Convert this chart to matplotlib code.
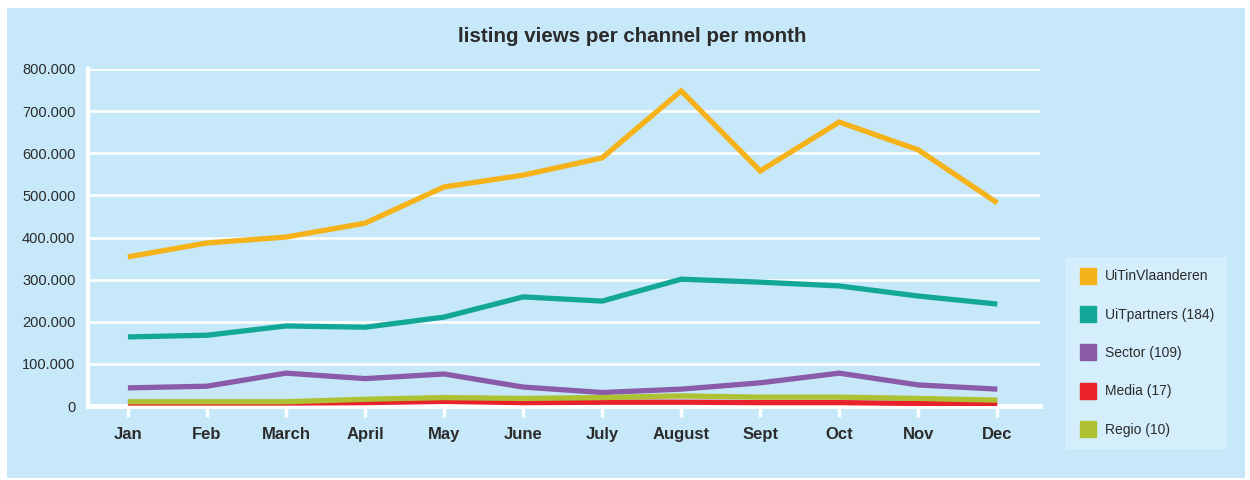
import matplotlib.pyplot as plt
from matplotlib.patches import Rectangle
from matplotlib.ticker import FuncFormatter

months = ["Jan", "Feb", "March", "April", "May", "June", "July", "August",
          "Sept", "Oct", "Nov", "Dec"]
uitinvlaanderen = [354000, 387000, 401000, 434000, 520000, 548000, 589000,
                   748000, 558000, 674000, 608000, 482000]
uitpartners = [164000, 168000, 190000, 187000, 211000, 259000, 249000,
               301000, 294000, 285000, 261000, 242000]
sector = [43000, 47000, 78000, 65000, 76000, 45000, 32000, 40000, 55000,
          78000, 50000, 40000]
media = [7000, 7000, 7000, 8000, 11000, 8000, 9000, 9000, 8000, 8000,
         6000, 4000]
regio = [10000, 10000, 10000, 16000, 20000, 18000, 20000, 24000, 21000,
         21000, 18000, 14000]

names = ["UiTinVlaanderen", "UiTpartners (184)", "Sector (109)",
         "Media (17)", "Regio (10)"]
colors = ["#f6b219", "#13a797", "#8a5ba8", "#e8212b", "#adc133"]
series = [uitinvlaanderen, uitpartners, sector, media, regio]

bg = "#c7e8f9"
txt = "#2b2b2b"
plt.rcParams["font.family"] = ["Liberation Sans", "DejaVu Sans"]

fig = plt.figure(figsize=(12.5, 4.8), dpi=100, facecolor="white")
fig.patches.append(Rectangle((7 / 1250, 2 / 480), 1238 / 1250, 470 / 480,
                             transform=fig.transFigure, facecolor=bg,
                             edgecolor="none", zorder=-10))

ax = fig.add_axes([88 / 1250, 74 / 480, 952 / 1250, 337 / 480])
ax.set_facecolor(bg)

x = range(len(months))
for vals, c, n in zip(series, colors, names):
    ax.plot(x, vals, color=c, lw=3.8, label=n, solid_capstyle="butt",
            solid_joinstyle="miter", zorder=3)

ax.set_xlim(-0.505, 11.54)
ax.set_ylim(0, 800000)
ax.set_yticks(range(0, 800001, 100000))
ax.yaxis.set_major_formatter(FuncFormatter(
    lambda v, p: "0" if v == 0 else f"{int(v):,}".replace(",", ".")))
ax.grid(axis="y", color="white", lw=1.8, zorder=1)
ax.set_axisbelow(True)
ax.set_xticks(list(x))
ax.set_xticklabels(months, fontweight="bold", fontsize=12, color=txt)
ax.tick_params(axis="x", length=8, width=2.5, color="white", pad=7)
ax.tick_params(axis="y", length=0, pad=9, labelsize=10.5, labelcolor=txt)

for s in ["top", "right"]:
    ax.spines[s].set_visible(False)
ax.spines["left"].set_color("white")
ax.spines["left"].set_linewidth(3)
ax.spines["bottom"].set_color("white")
ax.spines["bottom"].set_linewidth(3.5)

fig.text(632 / 1250, 1 - 37 / 480, "listing views per channel per month",
         ha="center", va="center", fontsize=14.8, fontweight="bold",
         color=txt)

handles = [plt.Line2D([], [], marker="s", ls="none", markersize=12,
                      markerfacecolor=c, markeredgecolor=c) for c in colors]
leg = fig.legend(handles, names, loc="upper left",
                 bbox_to_anchor=(1058 / 1250, 1 - 250 / 480),
                 frameon=True, fontsize=10, labelspacing=1.75,
                 handletextpad=0.5, handlelength=1.5, borderpad=0.9,
                 fancybox=False, facecolor="#d5eefb", edgecolor="none",
                 framealpha=1)
for t in leg.get_texts():
    t.set_color(txt)

fig.savefig("out.png", dpi=100, facecolor="white")
